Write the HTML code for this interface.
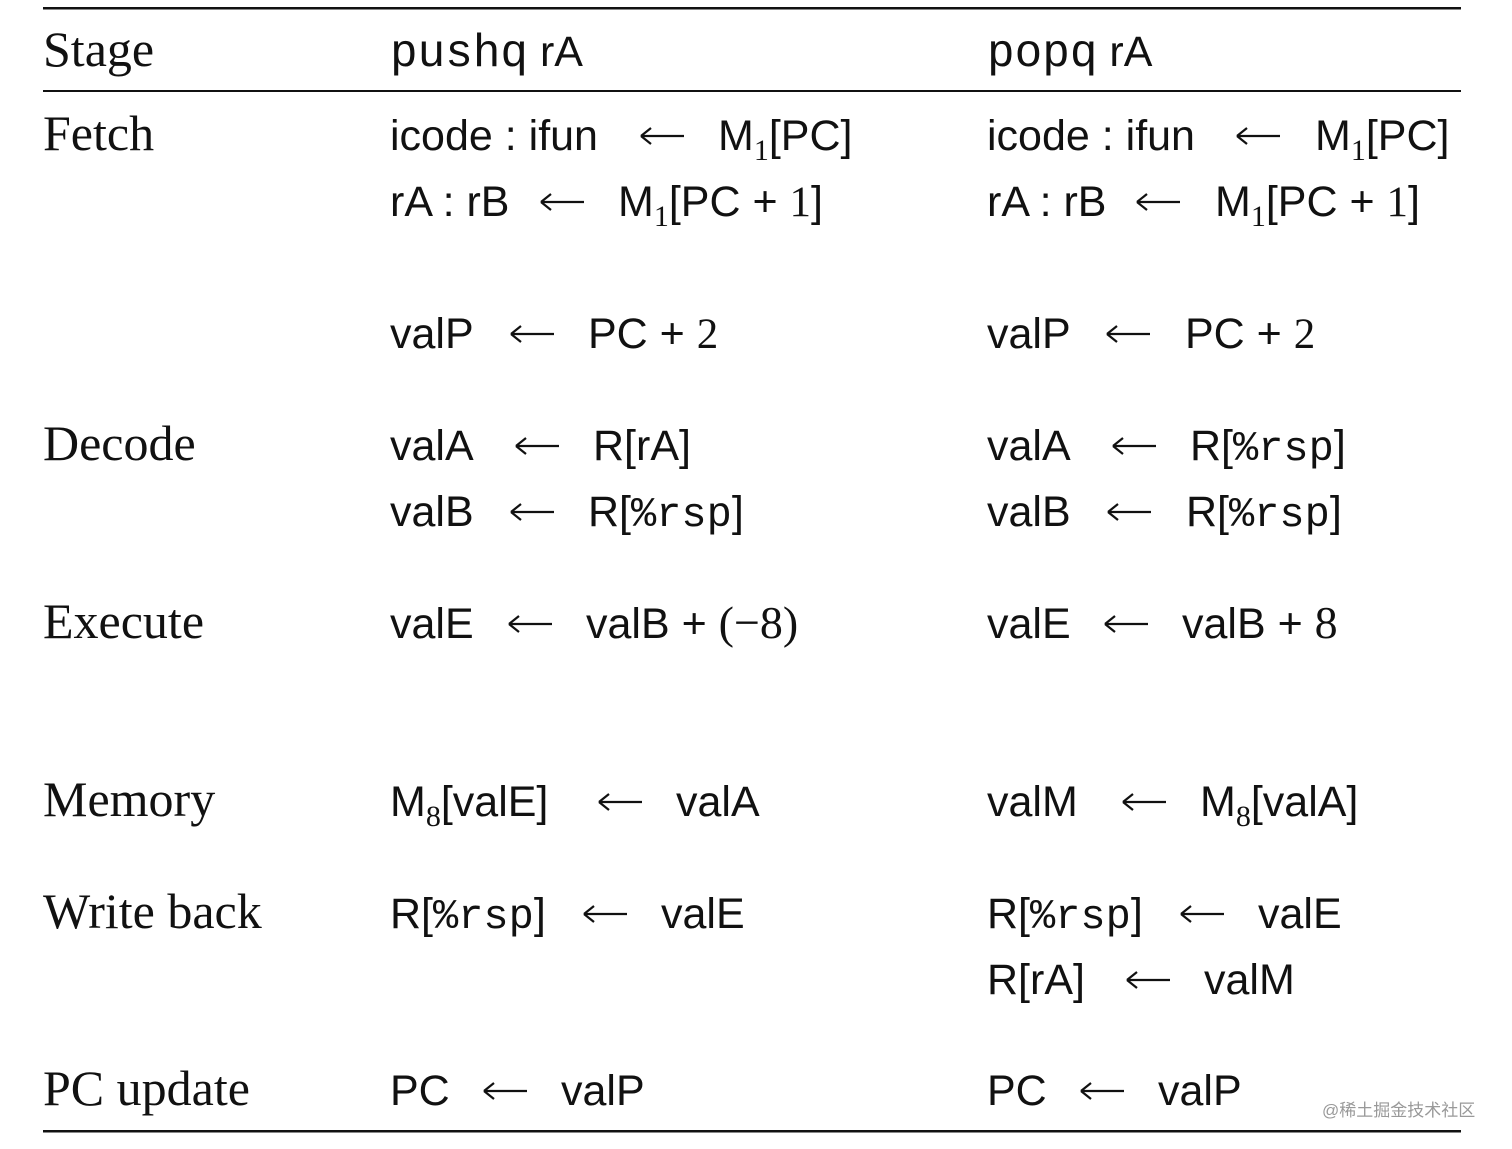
<!DOCTYPE html>
<html><head><meta charset="utf-8"><style>
html,body{margin:0;padding:0;background:#fff;}
svg{display:block}
.s{font-family:"Liberation Serif",serif;font-size:50px;fill:#111}
.m{font-family:"Liberation Sans",sans-serif;font-size:43px;fill:#111}
.t{font-family:"Liberation Mono",monospace}
.n{font-family:"Liberation Serif",serif}
.ar{stroke:#111;stroke-width:2.2;fill:none}
</style></head><body>
<svg width="1512" height="1149" viewBox="0 0 1512 1149" xmlns="http://www.w3.org/2000/svg">
<defs>
<g id="ar"><path class="ar" d="M1 0 H44 M1 0 L11 -8 M1 0 L11 8"/></g>
</defs>
<rect x="43" y="7" width="1418" height="2.5" fill="#111"/>
<rect x="43" y="90" width="1418" height="2" fill="#111"/>
<rect x="43" y="1130" width="1418" height="2.5" fill="#111"/>

<text class="s" x="43" y="66">Stage</text>
<text class="m" x="390" y="66"><tspan class="t" font-size="46">pushq</tspan> rA</text>
<text class="m" x="987" y="66"><tspan class="t" font-size="46">popq</tspan> rA</text>

<text class="s" x="43" y="150">Fetch</text>
<text class="s" x="43" y="460">Decode</text>
<text class="s" x="43" y="638">Execute</text>
<text class="s" x="43" y="816">Memory</text>
<text class="s" x="43" y="928">Write back</text>
<text class="s" x="43" y="1105">PC update</text>

<!-- pushq -->
<text class="m" x="390" y="150">icode : ifun</text><use href="#ar" x="640" y="136"/>
<text class="m" x="718" y="150">M<tspan class="n" font-size="30" dy="10">1</tspan><tspan dy="-10">[PC]</tspan></text>
<text class="m" x="390" y="216">rA : rB</text><use href="#ar" x="540" y="202"/>
<text class="m" x="618" y="216">M<tspan class="n" font-size="30" dy="10">1</tspan><tspan dy="-10">[PC + </tspan><tspan class="n">1</tspan>]</text>
<text class="m" x="390" y="348">valP</text><use href="#ar" x="510" y="334"/>
<text class="m" x="588" y="348">PC + <tspan class="n">2</tspan></text>
<text class="m" x="390" y="460">valA</text><use href="#ar" x="515" y="446"/>
<text class="m" x="593" y="460">R[rA]</text>
<text class="m" x="390" y="526">valB</text><use href="#ar" x="510" y="512"/>
<text class="m" x="588" y="526">R[<tspan class="t" font-size="42">%rsp</tspan>]</text>
<text class="m" x="390" y="638">valE</text><use href="#ar" x="508" y="624"/>
<text class="m" x="586" y="638">valB + <tspan class="n" font-size="46">(−8)</tspan></text>
<text class="m" x="390" y="816">M<tspan class="n" font-size="30" dy="10">8</tspan><tspan dy="-10">[valE]</tspan></text><use href="#ar" x="598" y="802"/>
<text class="m" x="676" y="816">valA</text>
<text class="m" x="390" y="928">R[<tspan class="t" font-size="42">%rsp</tspan>]</text><use href="#ar" x="583" y="914"/>
<text class="m" x="661" y="928">valE</text>
<text class="m" x="390" y="1105">PC</text><use href="#ar" x="483" y="1091"/>
<text class="m" x="561" y="1105">valP</text>

<!-- popq -->
<text class="m" x="987" y="150">icode : ifun</text><use href="#ar" x="1236" y="136"/>
<text class="m" x="1315" y="150">M<tspan class="n" font-size="30" dy="10">1</tspan><tspan dy="-10">[PC]</tspan></text>
<text class="m" x="987" y="216">rA : rB</text><use href="#ar" x="1136" y="202"/>
<text class="m" x="1215" y="216">M<tspan class="n" font-size="30" dy="10">1</tspan><tspan dy="-10">[PC + </tspan><tspan class="n">1</tspan>]</text>
<text class="m" x="987" y="348">valP</text><use href="#ar" x="1106" y="334"/>
<text class="m" x="1185" y="348">PC + <tspan class="n">2</tspan></text>
<text class="m" x="987" y="460">valA</text><use href="#ar" x="1112" y="446"/>
<text class="m" x="1190" y="460">R[<tspan class="t" font-size="42">%rsp</tspan>]</text>
<text class="m" x="987" y="526">valB</text><use href="#ar" x="1107" y="512"/>
<text class="m" x="1186" y="526">R[<tspan class="t" font-size="42">%rsp</tspan>]</text>
<text class="m" x="987" y="638">valE</text><use href="#ar" x="1104" y="624"/>
<text class="m" x="1182" y="638">valB + <tspan class="n" font-size="46">8</tspan></text>
<text class="m" x="987" y="816">valM</text><use href="#ar" x="1122" y="802"/>
<text class="m" x="1200" y="816">M<tspan class="n" font-size="30" dy="10">8</tspan><tspan dy="-10">[valA]</tspan></text>
<text class="m" x="987" y="928">R[<tspan class="t" font-size="42">%rsp</tspan>]</text><use href="#ar" x="1180" y="914"/>
<text class="m" x="1258" y="928">valE</text>
<text class="m" x="987" y="994">R[rA]</text><use href="#ar" x="1126" y="980"/>
<text class="m" x="1204" y="994">valM</text>
<text class="m" x="987" y="1105">PC</text><use href="#ar" x="1080" y="1091"/>
<text class="m" x="1158" y="1105">valP</text>

<text x="1322" y="1116" font-family="'Liberation Sans','Noto Sans CJK SC',sans-serif" font-size="17" fill="#999">@稀土掘金技术社区</text>
</svg>
</body></html>
